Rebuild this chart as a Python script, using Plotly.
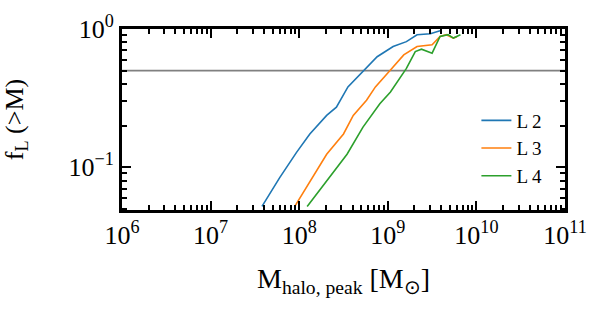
import plotly.graph_objects as go

# halo peak mass (log10 Msun) and luminous fraction
l2_logm = [7.58, 7.78, 7.97, 8.12, 8.31, 8.42, 8.55, 8.72, 8.88, 9.06, 9.21, 9.33, 9.48, 9.59]
l2_frac = [0.052, 0.084, 0.128, 0.174, 0.237, 0.272, 0.381, 0.49, 0.63, 0.746, 0.81, 0.908, 0.925, 0.97]

l3_logm = [7.95, 8.09, 8.31, 8.50, 8.61, 8.76, 8.86, 9.03, 9.18, 9.33, 9.50, 9.59, 9.66, 9.74, 9.78]
l3_frac = [0.052, 0.073, 0.124, 0.174, 0.237, 0.305, 0.381, 0.505, 0.649, 0.746, 0.768, 0.883, 0.91, 0.86, 0.88]

l4_logm = [8.09, 8.31, 8.54, 8.72, 8.91, 9.03, 9.21, 9.31, 9.38, 9.50, 9.59, 9.68, 9.74, 9.82]
l4_frac = [0.052, 0.079, 0.124, 0.195, 0.288, 0.35, 0.519, 0.687, 0.714, 0.668, 0.883, 0.91, 0.86, 0.91]

series = [("L 2", l2_logm, l2_frac, "#1f77b4"),
          ("L 3", l3_logm, l3_frac, "#ff7f0e"),
          ("L 4", l4_logm, l4_frac, "#2ca02c")]

half_line = 0.5
x_range = [6, 11]
y_range = [-1.31, 0]
x_tickvals = [1e6, 1e7, 1e8, 1e9, 1e10, 1e11]
x_ticktext = ["10<sup>6</sup>", "10<sup>7</sup>", "10<sup>8</sup>", "10<sup>9</sup>",
              "10<sup>10</sup>", "10<sup>11</sup>"]
y_tickvals = [0.1, 1.0]
y_ticktext = ["10<sup>\u22121</sup>", "10<sup>0</sup>"]

FONT = "Liberation Serif"

fig = go.Figure()
for name, logm, frac, col in series:
    fig.add_trace(go.Scatter(x=[10 ** v for v in logm], y=frac, mode="lines", name=name,
                             line=dict(color=col, width=1.6)))

fig.add_hline(y=half_line, line=dict(color="#808080", width=1.6), layer="below")

axis_common = dict(type="log", tickmode="array",
                   showline=True, linecolor="black", linewidth=3, mirror="allticks",
                   ticks="inside", ticklen=9, tickwidth=2, tickcolor="black",
                   showgrid=False, zeroline=False, automargin=False,
                   tickfont=dict(family=FONT, size=26, color="black"),
                   minor=dict(dtick="D1", ticks="inside", ticklen=5, tickwidth=1.5,
                              tickcolor="black", showgrid=False))

fig.update_xaxes(range=x_range, tickvals=x_tickvals, ticktext=x_ticktext,
                 title=dict(text="M<sub>halo, peak</sub> [M<sub>\u2299</sub>]",
                            font=dict(family=FONT, size=28, color="black"), standoff=20),
                 **axis_common)
fig.update_yaxes(range=y_range, tickvals=y_tickvals, ticktext=y_ticktext,
                 title=dict(text="f<sub>L</sub> (>M)",
                            font=dict(family=FONT, size=26, color="black"), standoff=40),
                 **axis_common)

fig.update_layout(
    width=598, height=330,
    margin=dict(l=122, r=33, t=29, b=120),
    plot_bgcolor="white", paper_bgcolor="white",
    font=dict(family=FONT, color="black"),
    legend=dict(x=0.80, y=0.08, xanchor="left", yanchor="bottom",
                bgcolor="rgba(0,0,0,0)", font=dict(family=FONT, size=19)),
)

fig.write_html("out.html", config={"displayModeBar": False},
               post_script="document.body.style.margin='0';")
